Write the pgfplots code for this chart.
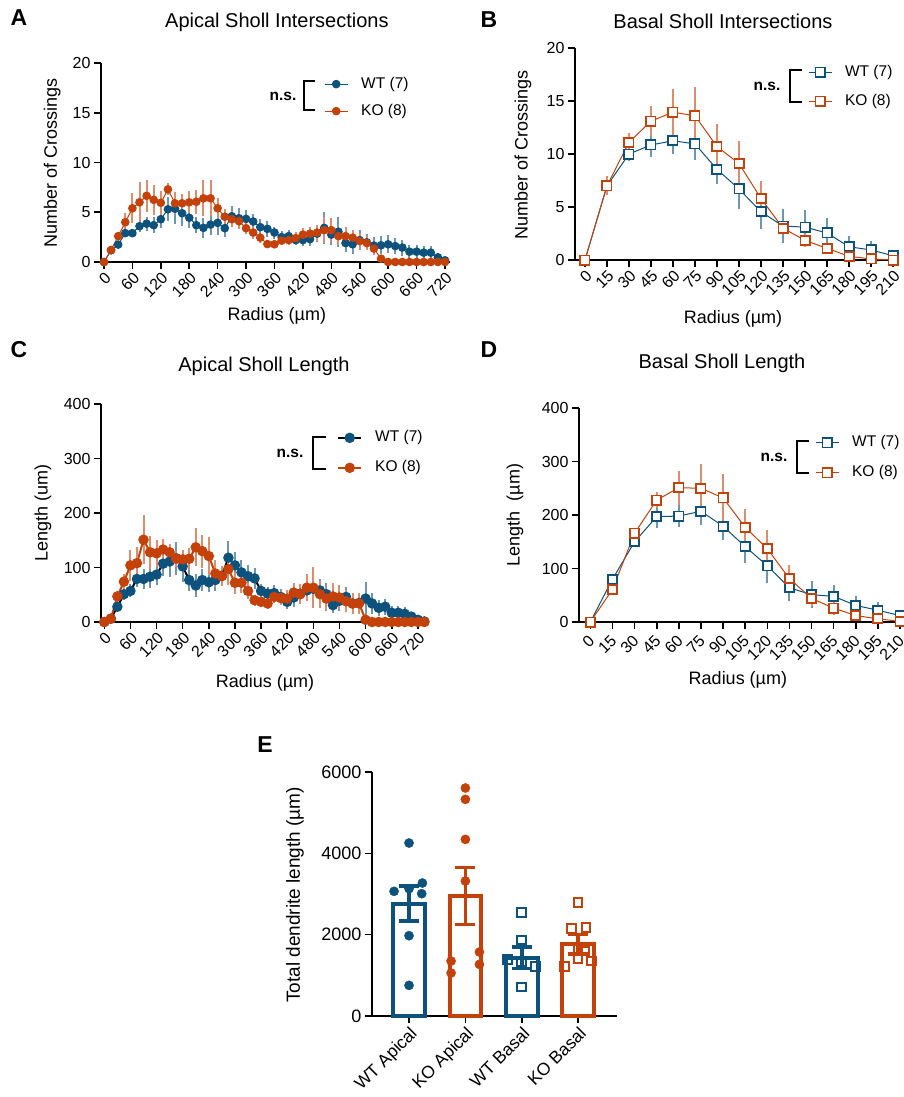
\documentclass[border=0pt]{standalone}
\usepackage{fontspec}
\setmainfont{Liberation Sans}
\usepackage{pgfplots}
\usepackage{pgfplotstable}
\pgfplotsset{compat=1.18}

\definecolor{wt}{RGB}{12,82,124}
\definecolor{ko}{RGB}{197,65,10}
\newcommand{\fs}[1]{\fontsize{#1}{#1}\selectfont}

% apical intersections: radius, WT mean, WT sem, KO mean, KO sem
\pgfplotstableread{
r wt wte ko koe
0 0 0 0 0
15 1.18 0.2 1.2 0.2
30 1.75 0.3 2.6 0.4
45 2.9 0.4 4.0 0.9
60 2.9 0.4 5.4 1.5
75 3.6 0.6 6.0 2.0
90 3.85 0.7 6.65 1.6
105 3.7 0.8 6.25 1.5
120 4.3 0.9 5.95 1.2
135 5.3 1.2 7.3 0.6
150 5.35 1.5 5.9 1.1
165 4.9 1.3 5.9 0.9
180 4.45 1.0 6.0 1.1
195 3.7 0.8 6.05 1.2
210 3.43 1.0 6.4 1.8
225 3.76 1.0 6.4 1.8
240 3.93 1.2 5.4 1.0
255 3.4 0.9 4.55 0.8
270 4.6 1.0 4.3 0.8
285 4.4 1.0 4.1 0.8
300 4.33 0.9 3.4 0.6
315 4.07 0.8 2.96 0.6
330 3.5 0.8 2.45 0.5
345 3.33 0.8 1.8 0.4
360 2.96 0.6 1.78 0.4
375 2.5 0.6 2.15 0.4
390 2.6 0.6 2.2 0.5
405 2.2 0.5 2.4 0.6
420 2.2 0.6 2.75 0.7
435 2.3 0.7 2.85 0.7
450 2.85 0.8 2.96 0.8
465 3.43 1.6 3.2 1.3
480 2.75 1.0 3.2 1.2
495 3.05 1.5 2.6 0.9
510 1.9 0.9 2.6 0.9
525 1.78 1.0 2.45 0.8
540 2.2 1.0 2.1 0.8
555 1.98 0.8 1.9 0.7
570 1.65 0.9 1.35 0.6
585 1.68 0.9 0.33 0.3
600 1.78 0.9 0 0
615 1.6 0.8 0 0
630 1.45 0.8 0 0
645 1.04 0.7 0 0
660 1.04 0.7 0 0
675 0.94 0.7 0 0
690 0.94 0.7 0 0
705 0.47 0.4 0 0
720 0.17 0.2 0 0
}\tabA

% basal intersections
\pgfplotstableread{
r wt wte ko koe
0 0 0 0 0
15 7.0 0.5 7.0 0.9
30 10.0 0.7 11.1 0.9
45 10.85 1.1 13.1 1.4
60 11.25 1.25 13.95 2.2
75 10.95 1.5 13.6 2.7
90 8.55 1.4 10.7 2.1
105 6.7 1.9 9.1 2.1
120 4.55 1.6 5.8 1.7
135 3.2 1.6 3.0 0.3
150 3.1 1.6 1.85 0.6
165 2.55 1.4 1.1 0.4
180 1.25 1.0 0.35 0.3
195 0.95 0.85 0.1 0.1
210 0.4 0.2 0 0
}\tabB

% apical length
\pgfplotstableread{
r wt wte ko koe
0 0 0 0 0
15 6 3 6 3
30 28 8 47 10
45 51 10 74 15
60 57 12 104 28
75 79 15 108 30
90 79 18 151 45
105 83 20 128 30
120 87 20 126 25
135 107 22 133 20
150 111 28 128 15
165 117 30 116 15
180 102 28 115 18
195 77 20 116 20
210 67 22 137 35
225 77 20 130 30
240 73 18 121 35
255 77 20 89 25
270 85 18 84 18
285 118 30 97 30
300 104 25 72 20
315 91 22 72 18
330 84 20 57 15
345 80 20 40 10
360 57 12 37 10
375 52 12 34 10
390 53 14 46 12
405 46 14 44 12
420 37 14 43 15
435 45 18 54 18
450 52 18 51 18
465 58 20 63 25
480 61 22 63 38
495 58 20 51 25
510 51 20 43 22
525 31 15 47 25
540 39 18 45 22
555 46 18 38 20
570 34 14 34 20
585 35 14 34 20
600 43 30 4 5
615 34 20 0 0
630 26 15 0 0
645 28 15 0 0
660 17 12 0 0
675 17 12 0 0
690 15 12 0 0
705 10 8 0 0
720 4 5 0 0
735 1 2 0 0
}\tabC

% basal length
\pgfplotstableread{
r wt wte ko koe
0 0 0 0 0
15 80 8 61 8
30 150 10 166 10
45 197 22 228 15
60 198 20 251 32
75 207 25 250 45
90 179 25 232 45
105 141 30 177 35
120 105 33 137 35
135 64 25 81 25
150 51 25 44 15
165 48 22 26 12
180 31 18 12 10
195 22 16 6 5
210 12 5 1 2
}\tabD

\pgfplotsset{
  prism/.style={
    scale only axis,
    anchor=south west,
    axis lines=left,
    axis line style={-, line width=1.6pt},
    every tick/.style={line width=1.6pt, black},
    major tick length=7pt,
    tick align=outside,
    ymin=0,
    enlargelimits=false,
    clip=false,
    ticklabel style={font=\fs{16}},
    /pgf/number format/assume math mode=true,
    /pgf/number format/1000 sep={},
    xticklabel style={rotate=45, anchor=north east, inner sep=1.5pt},
    title style={font=\fs{20}, anchor=center},
    label style={font=\fs{18}},
    xlabel style={anchor=center},
    ylabel style={anchor=center},
    legend cell align=left,
    legend style={draw=none, fill=none, inner sep=0pt, anchor=west,
      font=\fs{15.5}, row sep=13pt,
      nodes={inner sep=0pt, text height=11pt, text depth=3pt},
      /tikz/every odd column/.append style={column sep=13pt}},
    legend image code/.code={\draw[mark repeat=2,mark phase=2,##1]
      plot coordinates {(0pt,0pt) (11.5pt,0pt) (23pt,0pt)};},
  },
  sem/.style={error bars/.cd, y dir=both, y explicit, error mark=none,
    error bar style={line width=2pt, color=#1}},
}

\begin{document}
\begin{tikzpicture}
\useasboundingbox (0,0) rectangle (904pt,-1097pt);

% ---------- A ----------
\begin{axis}[prism, at={(101pt,-262pt)}, width=349pt, height=199pt,
  xmin=-6.3, xmax=730.6, ymax=20,
  xtick={0,60,...,720}, ytick={0,5,10,15,20},
  title={Apical Sholl Intersections},
  title style={at={(axis description cs:0.504,1.176)}},
  xlabel={Radius (µm)}, xlabel style={at={(axis description cs:0.504,-0.271)}},
  ylabel={Number of Crossings}, ylabel style={at={(axis description cs:-0.140,0.497)}},
  legend style={at={(axis description cs:0.639,0.826)}}]
\addplot[wt, line width=1pt, mark=*, mark size=3.8pt, mark options={solid},
  sem=wt!60!white] table[x=r, y=wt, y error=wte] {\tabA};
\addplot[ko, line width=1pt, mark=*, mark size=3.8pt, mark options={solid},
  sem=ko!60!white] table[x=r, y=ko, y error=koe] {\tabA};
\legend{WT (7), KO (8)}
\end{axis}
\draw[line width=1.4pt] (315pt,-81pt) -- (304pt,-81pt) -- (304pt,-110pt) -- (315pt,-110pt);
\node[font=\fs{15.5}\bfseries] at (283pt,-96pt) {n.s.};

% ---------- B ----------
\begin{axis}[prism, at={(575pt,-260pt)}, width=323pt, height=212pt,
  xmin=-6.8, xmax=213.4, ymax=20,
  xtick={0,15,...,210}, ytick={0,5,10,15,20},
  title={Basal Sholl Intersections},
  title style={at={(axis description cs:0.458,1.099)}},
  xlabel={Radius (µm)}, xlabel style={at={(axis description cs:0.489,-0.278)}},
  ylabel={Number of Crossings}, ylabel style={at={(axis description cs:-0.161,0.495)}},
  legend style={at={(axis description cs:0.721,0.818)}, row sep=15pt}]
\addplot[wt, line width=1pt, mark=square*, mark size=4.6pt,
  mark options={solid, fill=white, line width=1.8pt},
  sem=wt!60!white] table[x=r, y=wt, y error=wte] {\tabB};
\addplot[ko, line width=1pt, mark=square*, mark size=4.6pt,
  mark options={solid, fill=white, line width=1.8pt},
  sem=ko!60!white] table[x=r, y=ko, y error=koe] {\tabB};
\legend{WT (7), KO (8)}
\end{axis}
\draw[line width=1.4pt] (802pt,-70pt) -- (790pt,-70pt) -- (790pt,-102pt) -- (802pt,-102pt);
\node[font=\fs{15.5}\bfseries] at (767pt,-86pt) {n.s.};

% ---------- C ----------
\begin{axis}[prism, at={(101pt,-622pt)}, width=326pt, height=218pt,
  xmin=-7.6, xmax=741, ymax=400,
  xtick={0,60,...,720}, ytick={0,100,200,300,400},
  title={Apical Sholl Length},
  title style={at={(axis description cs:0.5,1.147)}},
  xlabel={Radius (µm)}, xlabel style={at={(axis description cs:0.503,-0.280)}},
  ylabel={Length (um)}, ylabel style={at={(axis description cs:-0.178,0.5)}},
  legend style={at={(axis description cs:0.724,0.776)}, row sep=16pt}]
\addplot[black, line width=2pt, mark=*, mark size=4.2pt,
  mark options={solid, wt},
  sem=wt!60!white] table[x=r, y=wt, y error=wte] {\tabC};
\addplot[ko, line width=2pt, mark=*, mark size=4.2pt, mark options={solid},
  sem=ko!60!white] table[x=r, y=ko, y error=koe] {\tabC};
\legend{WT (7), KO (8)}
\end{axis}
\draw[line width=1.4pt] (326pt,-437pt) -- (313pt,-437pt) -- (313pt,-469pt) -- (326pt,-469pt);
\node[font=\fs{15.5}\bfseries] at (290pt,-453pt) {n.s.};

% ---------- D ----------
\begin{axis}[prism, at={(579pt,-622pt)}, width=325pt, height=214pt,
  xmin=-7.7, xmax=212.7, ymax=400,
  xtick={0,15,...,210}, ytick={0,100,200,300,400},
  xticklabel style={xshift=-4pt},
  title={Basal Sholl Length},
  title style={at={(axis description cs:0.44,1.182)}},
  xlabel={Radius (µm)}, xlabel style={at={(axis description cs:0.489,-0.271)}},
  ylabel={Length\ \ (µm)}, ylabel style={at={(axis description cs:-0.197,0.5)}},
  legend style={at={(axis description cs:0.726,0.767)}, row sep=16pt}]
\addplot[wt, line width=1pt, mark=square*, mark size=4.6pt,
  mark options={solid, fill=white, line width=1.8pt},
  sem=wt!60!white] table[x=r, y=wt, y error=wte] {\tabD};
\addplot[ko, line width=1pt, mark=square*, mark size=4.6pt,
  mark options={solid, fill=white, line width=1.8pt},
  sem=ko!60!white] table[x=r, y=ko, y error=koe] {\tabD};
\legend{WT (7), KO (8)}
\end{axis}
\draw[line width=1.4pt] (809pt,-441pt) -- (797pt,-441pt) -- (797pt,-473pt) -- (809pt,-473pt);
\node[font=\fs{15.5}\bfseries] at (774pt,-457pt) {n.s.};

% ---------- E ----------
\begin{axis}[prism, at={(372pt,-1016pt)}, width=245pt, height=244pt,
  xmin=0.343, xmax=4.69, ymax=6000,
  xtick={1,2,3,4}, xticklabels={WT Apical,KO Apical,WT Basal,KO Basal},
  ytick={0,2000,4000,6000},
  ticklabel style={font=\fs{18}},
  xticklabel style={font=\fs{17.5}},
  ylabel={Total dendrite length (µm)},
  ylabel style={font=\fs{19}, at={(axis description cs:-0.314,0.496)}}]
\addplot[ybar, bar width=0.56, bar shift=0pt, draw=wt, fill=white, line width=4pt,
  error bars/.cd, y dir=both, y explicit, error mark=|,
  error mark options={wt, line width=3.5pt, mark size=10pt},
  error bar style={wt, line width=3.5pt}]
  coordinates {(1,2762) +- (0,430) (3,1434) +- (0,260)};
\addplot[ybar, bar width=0.56, bar shift=0pt, draw=ko, fill=white, line width=4pt,
  error bars/.cd, y dir=both, y explicit, error mark=|,
  error mark options={ko, line width=3.5pt, mark size=10pt},
  error bar style={ko, line width=3.5pt}]
  coordinates {(2,2951) +- (0,700) (4,1762) +- (0,240)};
\addplot[only marks, mark=*, mark size=4.6pt, wt] coordinates {
  (1,4254) (1.237,3270) (0.734,3066) (1,3131) (1.225,3008) (1,1975) (1,754)};
\addplot[only marks, mark=*, mark size=4.6pt, ko] coordinates {
  (2,5607) (2,5328) (2,4344) (2,3320) (1.746,1352) (2.249,1574) (2.249,1270) (1.746,1057)};
\addplot[only marks, mark=square, mark size=4.3pt, wt, line width=2pt] coordinates {
  (3,2541) (3,1869) (2.75,1393) (3,1330) (3.24,1221) (3,1300) (3,713)};
\addplot[only marks, mark=square, mark size=4.3pt, ko, line width=2pt] coordinates {
  (4,2787) (3.88,2148) (4.14,2172) (4,1640) (4,1410) (3.76,1221) (4.24,1352) (4.12,1600)};
\end{axis}

% panel letters
\node[font=\fs{23}\bfseries] at (19pt,-18pt) {A};
\node[font=\fs{23}\bfseries] at (489pt,-20pt) {B};
\node[font=\fs{23}\bfseries] at (19pt,-350pt) {C};
\node[font=\fs{23}\bfseries] at (489pt,-350pt) {D};
\node[font=\fs{23}\bfseries] at (265pt,-745pt) {E};
\end{tikzpicture}
\end{document}
